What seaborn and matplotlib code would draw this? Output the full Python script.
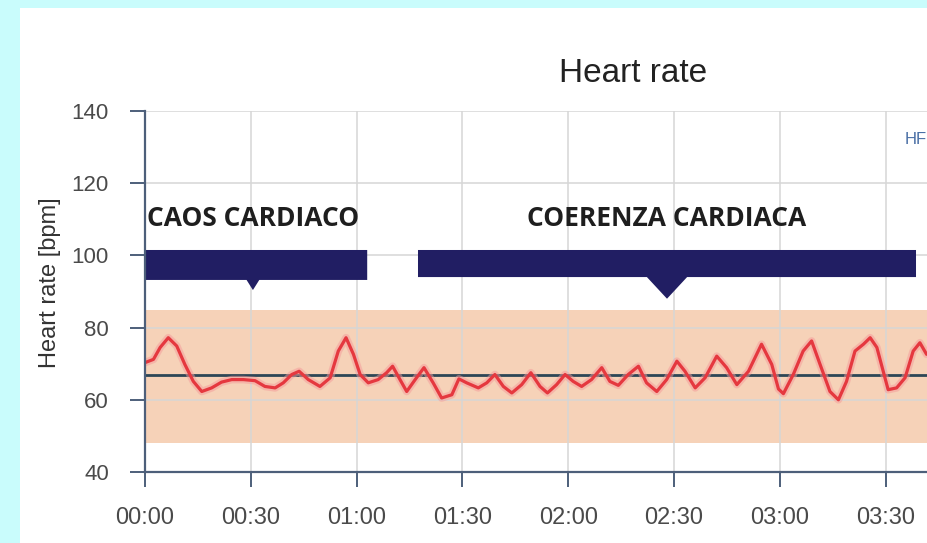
import matplotlib
matplotlib.use("Agg")
import matplotlib.pyplot as plt
from matplotlib.patches import Polygon, Rectangle
import pandas as pd
import seaborn as sns

# heart rate trace (seconds, bpm)
secs = [0, 2.4, 4.3, 6.6, 9.0, 11.3, 13.7, 16.1, 18.9, 21.7, 24.6, 27.9, 31.2, 34.0,
        36.9, 39.2, 41.6, 43.7, 46.3, 49.6, 52.5, 54.8, 57.0, 59.1, 61.0, 63.3, 66.1,
        68.5, 70.2, 72.3, 74.2, 76.6, 79.1, 81.7, 84.1, 87.0, 89.0, 91.2, 94.5, 96.9,
        99.2, 101.6, 104.0, 106.8, 109.4, 112.0, 114.1, 116.7, 119.1, 121.4, 123.8,
        126.6, 129.5, 131.8, 134.2, 137.0, 139.9, 142.2, 145.1, 147.9, 150.8, 153.1,
        156.0, 158.8, 162.1, 164.9, 167.8, 171.1, 174.8, 177.7, 179.6, 181.0, 183.8,
        186.6, 189.0, 191.4, 194.2, 196.6, 198.9, 201.3, 203.7, 205.6, 207.5, 209.3,
        210.7, 213.1, 215.5, 217.8, 219.7, 221.6]
bpm = [70.3, 71.2, 74.5, 77.2, 74.9, 69.8, 65.1, 62.3, 63.3, 64.9, 65.6, 65.6, 65.3, 63.7,
       63.3, 64.7, 67.0, 67.9, 65.6, 63.7, 66.1, 73.5, 77.2, 72.6, 67.0, 64.7, 65.6,
       67.5, 69.3, 65.6, 62.3, 65.6, 68.9, 64.7, 60.5, 61.4, 65.8, 64.7, 63.3, 64.7,
       67.0, 63.7, 61.9, 64.2, 67.5, 63.7, 61.9, 64.2, 67.0, 65.1, 63.7,
       65.6, 68.9, 65.1, 64.0, 67.0, 69.3, 64.7, 62.3, 65.6, 70.7, 67.9,
       63.3, 66.1, 72.1, 68.9, 64.2, 67.9, 75.4, 69.8, 63.0, 61.7, 67.0,
       73.5, 76.3, 69.8, 62.3, 60.0, 65.1, 73.5, 75.4, 77.2, 74.5, 67.9,
       62.8, 63.3, 66.1, 73.5, 75.8, 72.6]

mean_bpm = 67.0
band_low, band_high = 48.0, 85.0

# phase callouts
phase_labels = ["CAOS CARDIACO", "COERENZA CARDIACA"]
phase_start = [0, 77.4]
phase_end = [63.0, 218.6]
phase_notch = [30.6, 148.0]
phase_notch_half = [1.8, 5.7]
phase_notch_tip = [90.4, 88.0]
phase_bottom = [93.2, 94.0]
phase_top = 101.5

xticks = [0, 30, 60, 90, 120, 150, 180, 210]
xtick_labels = ["00:00", "00:30", "01:00", "01:30", "02:00", "02:30", "03:00", "03:30"]
yticks = [40, 60, 80, 100, 120, 140]

df = pd.DataFrame({"t": secs, "hr": bpm})

sns.set_style("whitegrid")
plt.rcParams["font.family"] = ["Liberation Sans", "DejaVu Sans"]

fig = plt.figure(figsize=(9.28, 5.43), dpi=100)
fig.patch.set_facecolor("#c9fcfc")
W, H = 928, 543
fig.patches.append(Rectangle((20 / W, 0), 1, (H - 8) / H, transform=fig.transFigure,
                             facecolor="white", edgecolor="none", zorder=-10))

ax = fig.add_axes([145 / W, (H - 472) / H, (W - 145) / W, (472 - 111) / H])
ax.set_zorder(2)
ax.set_facecolor("white")

ax.axhspan(band_low, band_high, color="#f0b58a", alpha=0.6, lw=0, zorder=1)
ax.axhline(mean_bpm, color="#2d4656", lw=2.0, zorder=3)

sns.lineplot(data=df, x="t", y="hr", ax=ax, color="#f59a9a", lw=5.5, alpha=0.5, zorder=4,
             solid_joinstyle="round", solid_capstyle="round")
sns.lineplot(data=df, x="t", y="hr", ax=ax, color="#e5383f", lw=2.3, zorder=5,
             solid_joinstyle="round", solid_capstyle="round")

for i in range(len(phase_labels)):
    x0, x1, xn, hw = phase_start[i], phase_end[i], phase_notch[i], phase_notch_half[i]
    yb = phase_bottom[i]
    pts = [(x0, phase_top), (x1, phase_top), (x1, yb), (xn + hw, yb),
           (xn, phase_notch_tip[i]), (xn - hw, yb), (x0, yb)]
    ax.add_patch(Polygon(pts, closed=True, facecolor="#211e63", edgecolor="none",
                         zorder=6, clip_on=False))

ax.text(0.6, 110.2, phase_labels[0], ha="left", va="center", fontsize=19,
        fontweight="bold", family="Open Sans", color="#1e1e1e", zorder=7)
ax.text(phase_notch[1], 110.2, phase_labels[1], ha="center", va="center", fontsize=19,
        fontweight="bold", family="Open Sans", color="#1e1e1e", zorder=7)

ax.set_xlim(0, 222)
ax.set_ylim(40, 140)
ax.set_xticks(xticks)
ax.set_xticklabels(xtick_labels)
ax.set_yticks(yticks)
ax.grid(True, color="#d6d6d6", lw=1.1, zorder=2)
ax.set_axisbelow(False)
for ln in ax.get_xgridlines() + ax.get_ygridlines():
    ln.set_zorder(2)

for s in ["top", "right"]:
    ax.spines[s].set_visible(False)
for s in ["left", "bottom"]:
    ax.spines[s].set_color("#4d5f7a")
    ax.spines[s].set_linewidth(1.6)
    ax.spines[s].set_zorder(8)

ax.tick_params(axis="both", colors="#4d5f7a", length=11, width=1.4,
               labelsize=16, labelcolor="#4a4a4a", bottom=True, left=True)
ax.tick_params(axis="y", pad=15)
ax.tick_params(axis="x", pad=14, labelsize=17)
ax.set_xlabel("")
ax.set_ylabel("Heart rate [bpm]", fontsize=17, color="#333333", labelpad=8)
ax.yaxis.label.set_y(0.525)

fig.text(633 / W, 1 - 73 / H, "Heart rate", ha="center", va="center",
         fontsize=24, color="#222222")
fig.text(905 / W, 1 - 139 / H, "HF", ha="left", va="center",
         fontsize=12, color="#4a6fa5")

fig.savefig("out.png", dpi=100, facecolor=fig.get_facecolor())
